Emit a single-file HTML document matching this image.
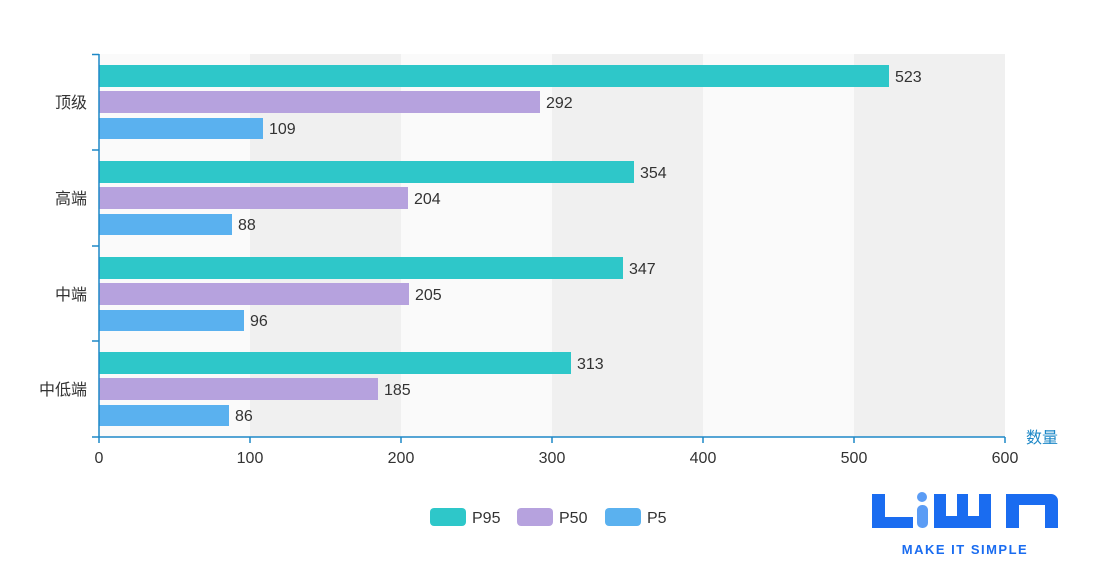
<!DOCTYPE html>
<html><head><meta charset="utf-8"><style>
html,body{margin:0;padding:0;background:#fff;}
svg{display:block;font-family:"Liberation Sans","Noto Sans CJK SC",sans-serif;}
</style></head><body>
<svg width="1098" height="567" viewBox="0 0 1098 567">
<rect x="99" y="54" width="151" height="383" fill="#fafafa"/>
<rect x="250" y="54" width="151" height="383" fill="#f0f0f0"/>
<rect x="401" y="54" width="151" height="383" fill="#fafafa"/>
<rect x="552" y="54" width="151" height="383" fill="#f0f0f0"/>
<rect x="703" y="54" width="151" height="383" fill="#fafafa"/>
<rect x="854" y="54" width="151" height="383" fill="#f0f0f0"/>
<g fill="#2ec7c9">
<rect x="99" y="65" width="790" height="22"/>
<rect x="99" y="161" width="535" height="22"/>
<rect x="99" y="257" width="524" height="22"/>
<rect x="99" y="352" width="472" height="22"/>
</g>
<g fill="#b6a2de">
<rect x="99" y="91" width="441" height="22"/>
<rect x="99" y="187" width="309" height="22"/>
<rect x="99" y="283" width="310" height="22"/>
<rect x="99" y="378" width="279" height="22"/>
</g>
<g fill="#5ab1ef">
<rect x="99" y="118" width="164" height="21"/>
<rect x="99" y="214" width="133" height="21"/>
<rect x="99" y="310" width="145" height="21"/>
<rect x="99" y="405" width="130" height="21"/>
</g>
<g font-size="16" fill="#333">
<text x="895" y="82">523</text><text x="546" y="108">292</text><text x="269" y="134">109</text>
<text x="640" y="178">354</text><text x="414" y="204">204</text><text x="238" y="230">88</text>
<text x="629" y="274">347</text><text x="415" y="300">205</text><text x="250" y="326">96</text>
<text x="577" y="369">313</text><text x="384" y="395">185</text><text x="235" y="421">86</text>
</g>
<g stroke="#1e88c7" stroke-width="1.5">
<line x1="99" y1="54" x2="99" y2="437"/>
<line x1="99" y1="437" x2="1005" y2="437"/>
<line x1="92" y1="54.5" x2="99" y2="54.5"/><line x1="92" y1="150" x2="99" y2="150"/>
<line x1="92" y1="246" x2="99" y2="246"/><line x1="92" y1="341" x2="99" y2="341"/>
<line x1="92" y1="437" x2="99" y2="437"/>
<line x1="250" y1="437" x2="250" y2="443"/><line x1="401" y1="437" x2="401" y2="443"/>
<line x1="552" y1="437" x2="552" y2="443"/><line x1="703" y1="437" x2="703" y2="443"/>
<line x1="854" y1="437" x2="854" y2="443"/><line x1="1005" y1="437" x2="1005" y2="443"/>
<line x1="99" y1="437" x2="99" y2="443"/>
</g>
<g font-size="16" fill="#333" text-anchor="end">
<text x="87" y="108">顶级</text><text x="87" y="204">高端</text>
<text x="87" y="300">中端</text><text x="87" y="395">中低端</text>
</g>
<g font-size="16" fill="#333" text-anchor="middle">
<text x="99" y="463">0</text><text x="250" y="463">100</text><text x="401" y="463">200</text>
<text x="552" y="463">300</text><text x="703" y="463">400</text><text x="854" y="463">500</text><text x="1005" y="463">600</text>
</g>
<text x="1026" y="443" font-size="16" fill="#1e88c7">数量</text>
<rect x="430" y="508" width="36" height="18" rx="4" fill="#2ec7c9"/>
<text x="472" y="523" font-size="16" fill="#333">P95</text>
<rect x="517" y="508" width="36" height="18" rx="4" fill="#b6a2de"/>
<text x="559" y="523" font-size="16" fill="#333">P50</text>
<rect x="605" y="508" width="36" height="18" rx="4" fill="#5ab1ef"/>
<text x="647" y="523" font-size="16" fill="#333">P5</text>
<g fill="#1a6cf0">
<path d="M872 494h13v23h28v11h-41z"/>
<rect x="917" y="505" width="11" height="23" rx="5" fill="#5b9cf5"/>
<circle cx="922" cy="497" r="5" fill="#5b9cf5"/>
<path d="M934 494h12v22h11v-22h11v22h11v-22h12v34h-57z"/>
<path d="M1006 494h45a7 7 0 0 1 7 7v27h-13v-23h-26v23h-13z"/>
</g>
<text x="965" y="554" font-size="13" font-weight="bold" fill="#1a6cf0" text-anchor="middle" letter-spacing="1.5">MAKE IT SIMPLE</text>
</svg>
</body></html>
